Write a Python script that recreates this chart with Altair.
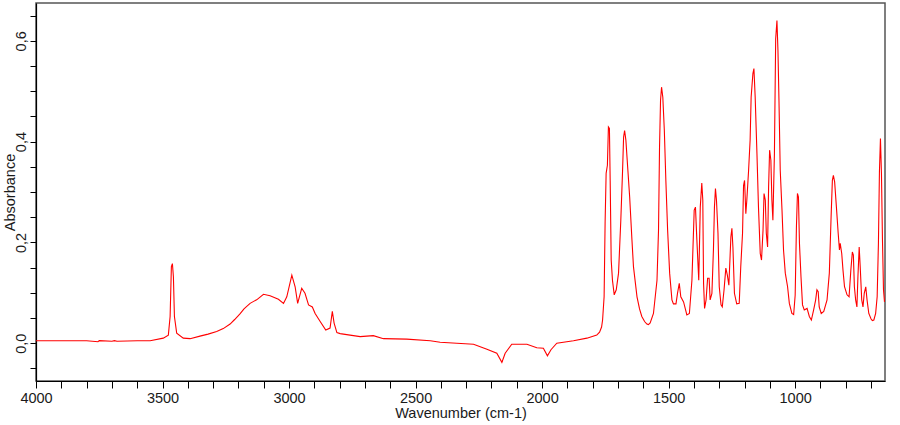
import altair as alt
import pandas as pd

wavenumber = [
    4000, 3900, 3800, 3755, 3750, 3700, 3690, 3680, 3600, 3549, 3497, 3477, 3470, 3465, 3461, 3457,
    3453, 3444, 3418, 3391, 3352, 3320, 3286, 3260, 3233, 3215, 3194, 3178, 3154, 3140, 3128, 3101,
    3075, 3042, 3022, 3009, 2989,
    2976, 2966, 2950, 2937, 2923, 2908, 2897, 2877, 2855, 2838, 2829, 2822, 2811, 2798, 2759, 2719,
    2667, 2627, 2535, 2442, 2403, 2337, 2271, 2218, 2179, 2159, 2146, 2120, 2060, 2021, 1995, 1979,
    1965, 1942, 1876, 1823, 1784, 1773, 1765, 1761, 1755, 1751, 1747, 1742, 1738, 1734, 1731, 1727,
    1722, 1715, 1707, 1698, 1689, 1682, 1678, 1674, 1669, 1662, 1654, 1645, 1639, 1625, 1615, 1606,
    1595, 1586, 1580,
    1573, 1560, 1546, 1540, 1536, 1532, 1528, 1523, 1517, 1511, 1504, 1496, 1487, 1481, 1471, 1465,
    1458, 1452, 1441, 1428, 1418, 1408, 1399, 1394, 1389, 1381, 1375, 1369, 1365, 1362, 1358, 1352,
    1346, 1340, 1336, 1329, 1323, 1319, 1315, 1311, 1305, 1300, 1293, 1288, 1281, 1274, 1268, 1262,
    1254, 1250, 1246, 1240, 1231, 1221, 1215, 1208, 1204, 1200, 1195, 1191, 1184, 1178, 1174, 1167,
    1163, 1158, 1151, 1145, 1138, 1133, 1127, 1123, 1118, 1114, 1109, 1105, 1101, 1096, 1092, 1088,
    1082, 1077, 1072, 1068, 1064, 1059, 1052, 1046, 1039, 1030, 1023, 1013, 1006, 1000, 995, 991,
    987, 983, 977, 971, 964, 953, 944, 936, 927, 919, 914, 909, 905, 897, 887, 874,
    865, 858, 853, 849, 844, 837, 830, 825, 822, 816, 811, 805, 795, 787, 780, 774,
    770, 766, 761, 756, 752, 747, 743, 737, 732, 727, 721, 716, 709, 700, 695, 689, 682,
    676, 671, 667, 663, 659, 655, 651, 647,
]

absorbance = [
    0.005, 0.005, 0.005, 0.003, 0.005, 0.004, 0.005, 0.004, 0.005, 0.005, 0.010, 0.016, 0.053, 0.152, 0.158, 0.132,
    0.053, 0.020, 0.010, 0.009, 0.014, 0.018, 0.023, 0.029, 0.038, 0.047, 0.058, 0.068, 0.079, 0.083, 0.086, 0.097,
    0.094, 0.087, 0.079, 0.092, 0.135,
    0.112, 0.079, 0.109, 0.099, 0.076, 0.072, 0.059, 0.043, 0.026, 0.030, 0.063, 0.040, 0.021, 0.019, 0.016, 0.013,
    0.015, 0.009, 0.008, 0.005, 0.002, 0.000, -0.002, -0.012, -0.020, -0.038, -0.020, -0.002, -0.002, -0.009, -0.010, -0.025,
    -0.013, 0.000, 0.005, 0.010, 0.016, 0.022, 0.032, 0.046, 0.092, 0.241, 0.337, 0.353, 0.429, 0.426, 0.323, 0.165,
    0.125, 0.096, 0.106, 0.139, 0.244, 0.343, 0.409, 0.422, 0.403, 0.350, 0.290, 0.205, 0.152, 0.092, 0.068, 0.053,
    0.043, 0.038, 0.037,
    0.040, 0.059, 0.125, 0.224, 0.389, 0.482, 0.508, 0.488, 0.422, 0.323, 0.224, 0.139, 0.086, 0.078, 0.078, 0.099,
    0.119, 0.092, 0.082, 0.056, 0.059, 0.125, 0.264, 0.270, 0.211, 0.125, 0.270, 0.318, 0.284, 0.119, 0.069, 0.086,
    0.129, 0.129, 0.086, 0.099, 0.185, 0.270, 0.307, 0.284, 0.218, 0.112, 0.076, 0.072, 0.106, 0.149, 0.135, 0.115,
    0.211, 0.228, 0.191, 0.099, 0.078, 0.079, 0.152, 0.218, 0.313, 0.323, 0.257, 0.284, 0.343, 0.403, 0.488, 0.535,
    0.545, 0.488, 0.376, 0.270, 0.178, 0.165, 0.224, 0.297, 0.284, 0.218, 0.191, 0.310, 0.383, 0.363, 0.284, 0.244,
    0.376, 0.604, 0.640, 0.581, 0.482, 0.343, 0.264, 0.185, 0.139, 0.112, 0.079, 0.059, 0.057, 0.095, 0.231, 0.297,
    0.290, 0.198, 0.132, 0.076, 0.066, 0.069, 0.053, 0.046, 0.066, 0.086, 0.106, 0.102, 0.072, 0.059, 0.063, 0.086,
    0.139, 0.251, 0.323, 0.333, 0.320, 0.270, 0.218, 0.185, 0.198, 0.178, 0.145, 0.112, 0.096, 0.092, 0.145, 0.181,
    0.175, 0.112, 0.086, 0.072, 0.132, 0.191, 0.152, 0.086, 0.072, 0.099, 0.112, 0.086, 0.059, 0.048, 0.045, 0.046, 0.059,
    0.092, 0.198, 0.340, 0.406, 0.337, 0.205, 0.106, 0.082,
]

x_ticks = list(range(4000, 600, -100))
y_ticks = [-0.05, 0.0, 0.05, 0.1, 0.15, 0.2, 0.25, 0.3, 0.35, 0.4, 0.45, 0.5, 0.55, 0.6, 0.65]

df = pd.DataFrame({"wn": wavenumber, "abs": absorbance})

FONT = "Liberation Sans"
FS = 14.5

chart = alt.Chart(df).mark_line(color="#ff0000", strokeWidth=1.1, clip=True).encode(
    x=alt.X(
        "wn:Q",
        scale=alt.Scale(domain=[645, 4000], reverse=True, nice=False, zero=False),
        axis=alt.Axis(
            title="Wavenumber (cm-1)",
            values=x_ticks,
            labelExpr="round(datum.value) % 500 == 0 ? format(datum.value, 'd') : ''",
            tickSize=7,
            labelPadding=3,
            titlePadding=2,
            grid=False,
            labelFlush=False,
            labelOverlap=False,
        ),
    ),
    y=alt.Y(
        "abs:Q",
        scale=alt.Scale(domain=[-0.075, 0.675], nice=False, zero=False),
        axis=alt.Axis(
            title="Absorbance",
            values=y_ticks,
            labelExpr="abs(round(datum.value * 100)) % 20 == 0 ? replace(format(datum.value, '.1f'), '.', ',') : ''",
            labelAngle=270,
            labelAlign="center",
            labelBaseline="bottom",
            tickSize=6,
            labelPadding=2,
            grid=False,
            labelOverlap=False,
            labelFlush=False,
            titleAngle=270,
            titleX=-26,
            titleY=189,
            titleAlign="center",
            titleBaseline="middle",
        ),
    ),
).properties(
    width=849,
    height=378,
    padding={"left": 36, "top": 3, "right": 15, "bottom": 44},
    autosize=alt.AutoSizeParams(type="none"),
    background="white",
).configure_view(
    stroke="#555555",
    strokeWidth=1.5,
).configure_axis(
    domainColor="#000000",
    domainWidth=1.2,
    tickColor="#000000",
    tickWidth=1,
    labelFont=FONT,
    titleFont=FONT,
    labelFontSize=FS,
    titleFontSize=FS,
    labelColor="#1a1a1a",
    titleColor="#1a1a1a",
    titleFontWeight="normal",
)

chart.save("out.html", embed_options={"renderer": "svg", "actions": False})
